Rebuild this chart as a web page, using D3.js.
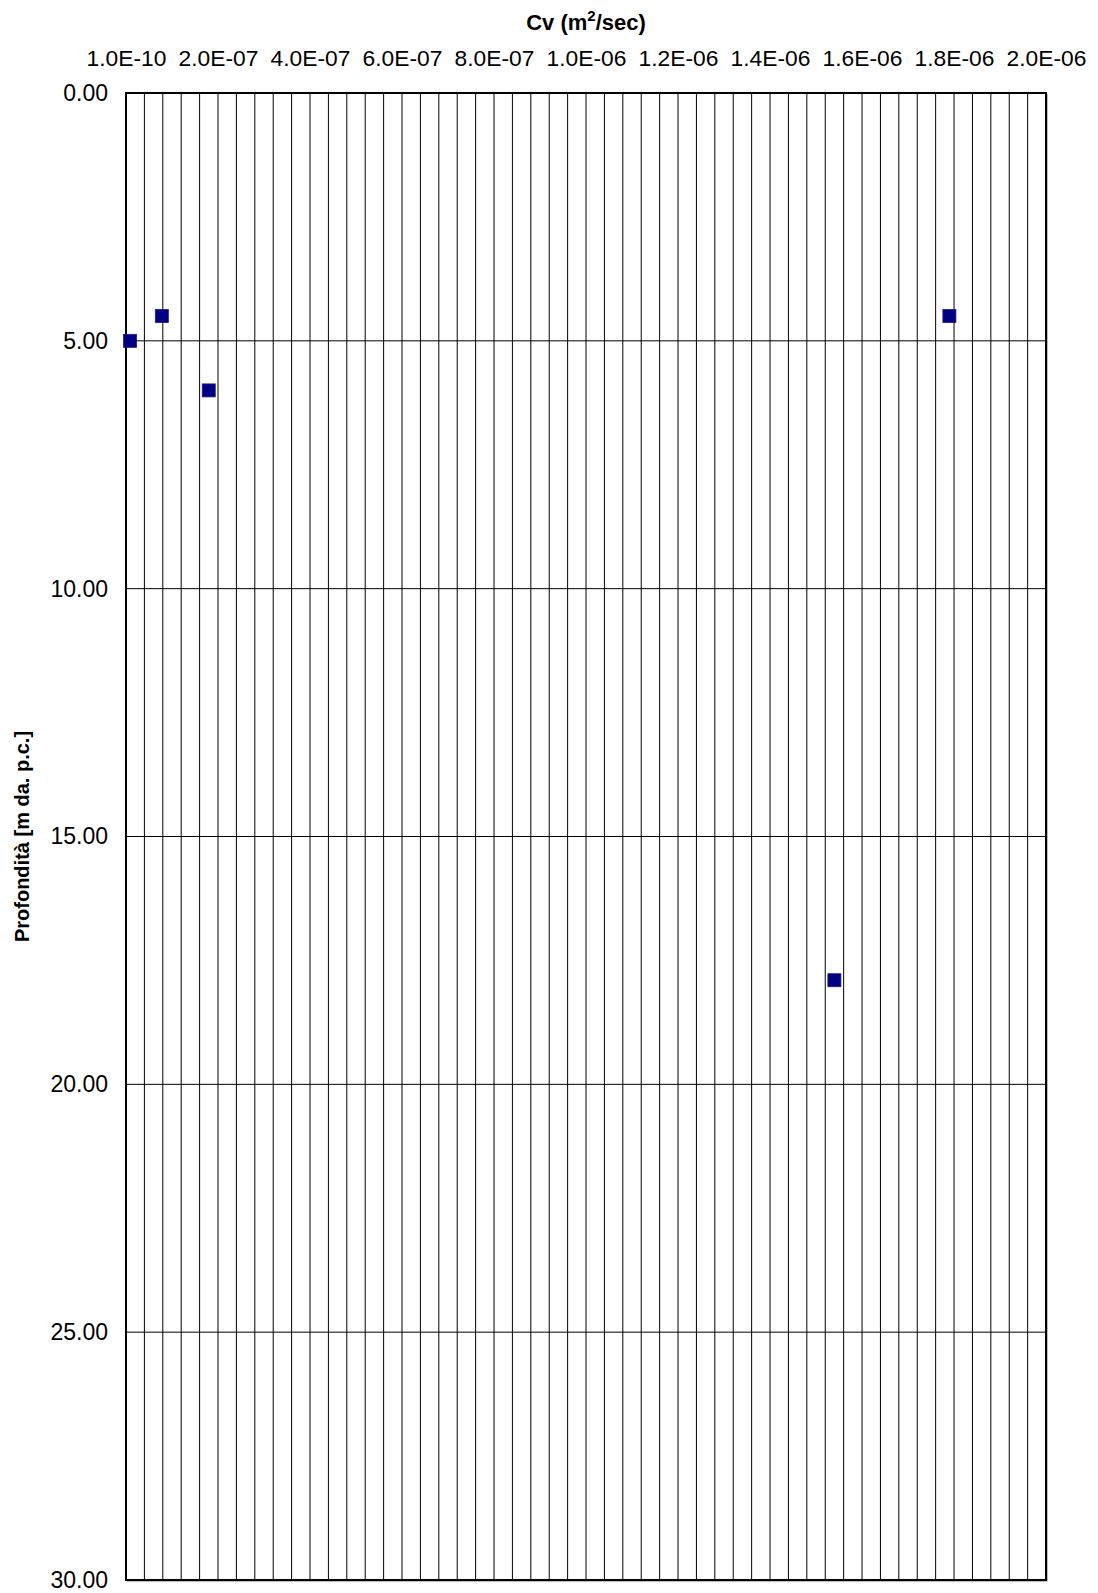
<!DOCTYPE html>
<html>
<head>
<meta charset="utf-8">
<script src="https://cdn.jsdelivr.net/npm/d3@7"></script>
<style>
  html, body { margin: 0; padding: 0; background: #fff; }
  svg { display: block; font-family: Arial, "Liberation Sans", sans-serif; }
</style>
</head>
<body>
<svg id="chart" width="1098" height="1593"></svg>
<script>
// ---- data ----
const cvValues = [9e-9, 7.8e-8, 1.8e-7, 1.79e-6, 1.54e-6];
const depthValues = [5.0, 4.5, 6.0, 4.5, 17.9];
const xMin = 1e-10, xMax = 2e-6, xGridStep = 4e-8;
const xTickValues = [1e-10, 2e-7, 4e-7, 6e-7, 8e-7, 1e-6, 1.2e-6, 1.4e-6, 1.6e-6, 1.8e-6, 2e-6];
const xTickLabels = ["1.0E-10", "2.0E-07", "4.0E-07", "6.0E-07", "8.0E-07", "1.0E-06", "1.2E-06", "1.4E-06", "1.6E-06", "1.8E-06", "2.0E-06"];
const yTickValues = [0, 5, 10, 15, 20, 25, 30];
const xTitle = "Cv (m", xTitleSup = "2", xTitleEnd = "/sec)";
const yTitle = "Profondità [m da. p.c.]";

// ---- layout ----
const W = 1098, H = 1593;
const L = 126, R = 1046, T = 93, B = 1580;
const svg = d3.select("#chart");
svg.append("rect").attr("width", W).attr("height", H).attr("fill", "#fff");

const x = d3.scaleLinear().domain([xMin, xMax]).range([L, R]);
const y = d3.scaleLinear().domain([0, 30]).range([T, B]);

// shadow
svg.append("path")
  .attr("d", `M${L + 1},${B + 1.5}H${R + 1.5}V${T + 1}`)
  .attr("fill", "none").attr("stroke", "#bbb").attr("stroke-width", 1);

// vertical gridlines
const nGrid = Math.round((xMax - xMin) / xGridStep);
const gridX = d3.range(1, nGrid).map(i => xMin + i * xGridStep);
svg.append("g").selectAll("line").data(gridX).join("line")
  .attr("x1", d => x(d)).attr("x2", d => x(d))
  .attr("y1", T).attr("y2", B)
  .attr("stroke", "#000").attr("stroke-width", 1);

// horizontal gridlines
svg.append("g").selectAll("line").data(yTickValues.slice(1, -1)).join("line")
  .attr("x1", L).attr("x2", R)
  .attr("y1", d => y(d)).attr("y2", d => y(d))
  .attr("stroke", "#000").attr("stroke-width", 1);

// frame
svg.append("rect").attr("x", L).attr("y", T).attr("width", R - L).attr("height", B - T)
  .attr("fill", "none").attr("stroke", "#000").attr("stroke-width", 2);

// top axis
const xAxis = d3.axisTop(x).tickValues(xTickValues)
  .tickFormat((d, i) => xTickLabels[i]).tickSize(0).tickPadding(0);
const gx = svg.append("g").attr("transform", `translate(0,${T - 27})`).call(xAxis);
gx.select(".domain").remove();
gx.selectAll("text").attr("font-size", 22.8).attr("fill", "#000")
  .attr("font-family", "Arial, 'Liberation Sans', sans-serif").attr("dy", 0);

// left axis
const yAxis = d3.axisLeft(y).tickValues(yTickValues)
  .tickFormat(d3.format(".2f")).tickSize(0).tickPadding(18);
const gy = svg.append("g").attr("transform", `translate(${L},0)`).call(yAxis);
gy.select(".domain").remove();
gy.selectAll("text").attr("font-size", 23).attr("fill", "#000")
  .attr("font-family", "Arial, 'Liberation Sans', sans-serif");

// markers
const ms = 13;
svg.append("g").selectAll("rect").data(cvValues.map((v, i) => [v, depthValues[i]])).join("rect")
  .attr("x", d => x(d[0]) - ms / 2).attr("y", d => y(d[1]) - ms / 2)
  .attr("width", ms).attr("height", ms)
  .attr("fill", "#000080").attr("stroke", "#1a1a90").attr("stroke-width", 0.8);

// x title
const tt = svg.append("text").attr("x", (L + R) / 2).attr("y", 30)
  .attr("text-anchor", "middle").attr("font-size", 22).attr("font-weight", "bold").attr("fill", "#000");
tt.append("tspan").text(xTitle);
tt.append("tspan").text(xTitleSup).attr("font-size", 15).attr("dy", -9);
tt.append("tspan").text(xTitleEnd).attr("dy", 9);

// y title
svg.append("text")
  .attr("transform", `translate(29,${(T + B) / 2}) rotate(-90)`)
  .attr("text-anchor", "middle").attr("font-size", 20).attr("font-weight", "bold").attr("fill", "#000")
  .text(yTitle);
</script>
</body>
</html>
